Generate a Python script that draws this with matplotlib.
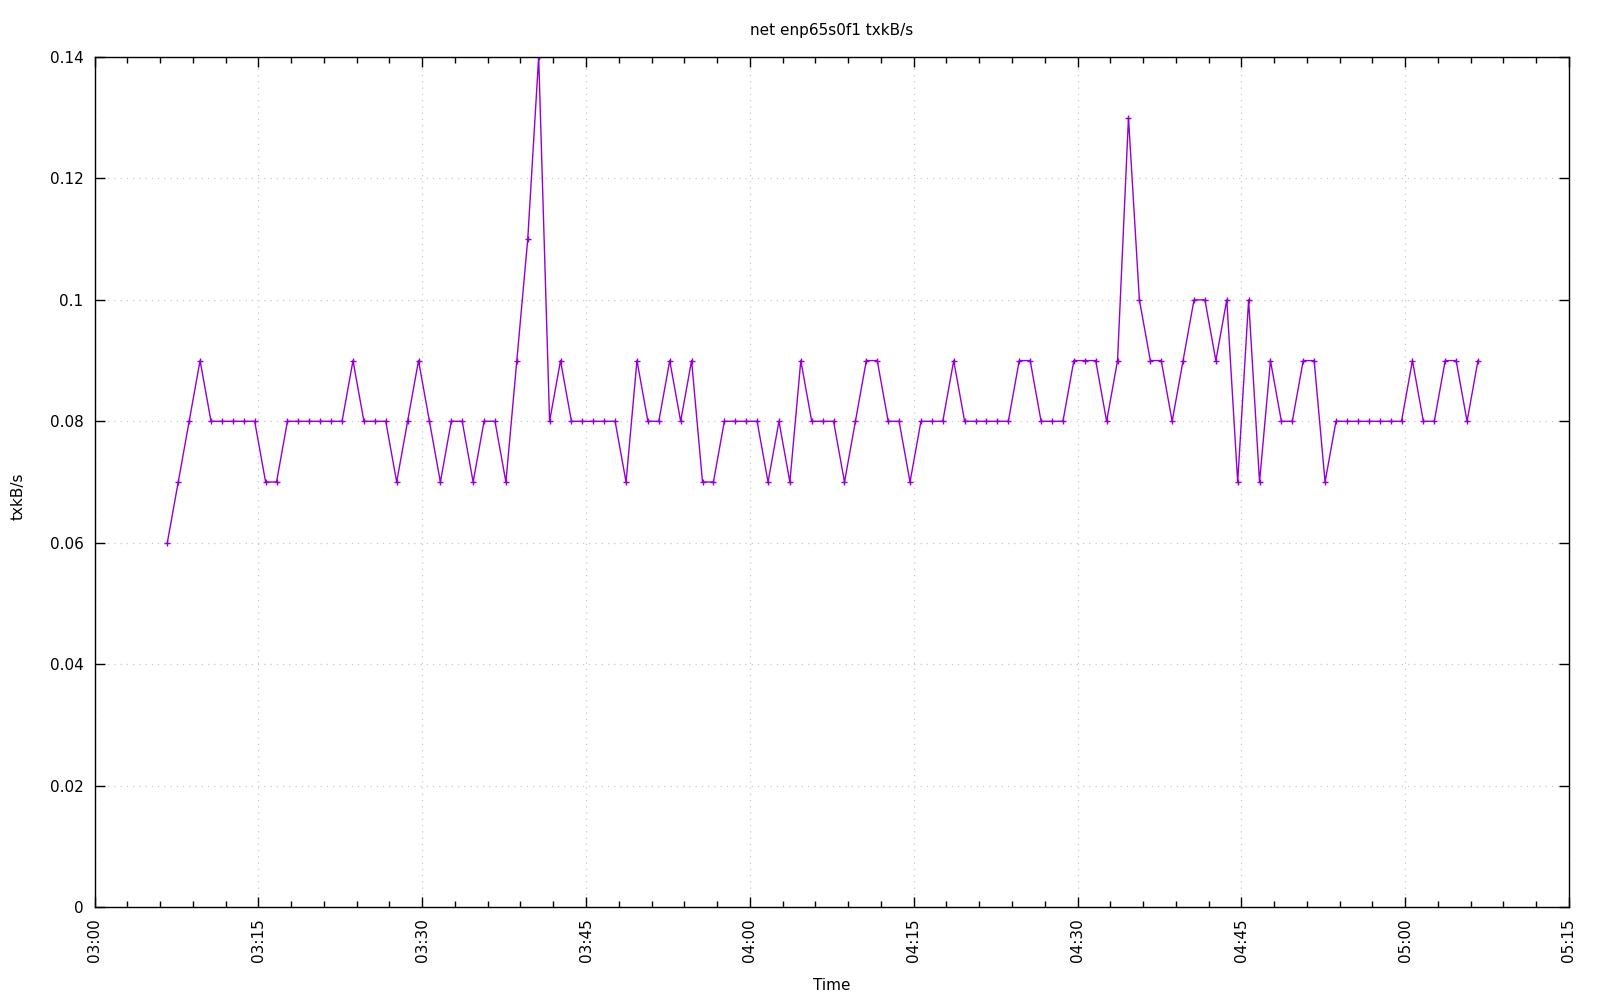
import matplotlib
matplotlib.use("Agg")
import matplotlib.pyplot as plt
import matplotlib.dates as mdates
import numpy as np
import pandas as pd

# Data: one sample per minute starting 03:06:40
start_time = "2024-01-01 03:06:40"
txkbs = [
    0.06, 0.07, 0.08, 0.09, 0.08, 0.08, 0.08, 0.08, 0.08, 0.07,
    0.07, 0.08, 0.08, 0.08, 0.08, 0.08, 0.08, 0.09, 0.08, 0.08,
    0.08, 0.07, 0.08, 0.09, 0.08, 0.07, 0.08, 0.08, 0.07, 0.08,
    0.08, 0.07, 0.09, 0.11, 0.14, 0.08, 0.09, 0.08, 0.08, 0.08,
    0.08, 0.08, 0.07, 0.09, 0.08, 0.08, 0.09, 0.08, 0.09, 0.07,
    0.07, 0.08, 0.08, 0.08, 0.08, 0.07, 0.08, 0.07, 0.09, 0.08,
    0.08, 0.08, 0.07, 0.08, 0.09, 0.09, 0.08, 0.08, 0.07, 0.08,
    0.08, 0.08, 0.09, 0.08, 0.08, 0.08, 0.08, 0.08, 0.09, 0.09,
    0.08, 0.08, 0.08, 0.09, 0.09, 0.09, 0.08, 0.09, 0.13, 0.10,
    0.09, 0.09, 0.08, 0.09, 0.10, 0.10, 0.09, 0.10, 0.07, 0.10,
    0.07, 0.09, 0.08, 0.08, 0.09, 0.09, 0.07, 0.08, 0.08, 0.08,
    0.08, 0.08, 0.08, 0.08, 0.09, 0.08, 0.08, 0.09, 0.09, 0.08,
    0.09,
]
times = pd.date_range(start_time, periods=len(txkbs), freq="1min")

title = "net enp65s0f1 txkB/s"
xlabel = "Time"
ylabel = "txkB/s"
x_min, x_max = "2024-01-01 03:00", "2024-01-01 05:15"
y_min, y_max = 0.0, 0.14
y_ticks = [0, 0.02, 0.04, 0.06, 0.08, 0.1, 0.12, 0.14]
y_ticklabels = ["0", "0.02", "0.04", "0.06", "0.08", "0.1", "0.12", "0.14"]

plt.rcParams['font.family'] = ['DejaVu Sans']
fig = plt.figure(figsize=(16, 10), dpi=100)
left_px, right_px = 94.5, 1569
ax = fig.add_axes([left_px / 1600, 0.093, (right_px - left_px) / 1600, 0.85])
cx = (left_px + right_px) / 2 / 1600

line_color = "#9400D3"
ax.plot(times, txkbs, color=line_color, lw=1.0, marker="+", markersize=4.5,
        markeredgewidth=1.0)

ax.set_xlim(pd.Timestamp(x_min), pd.Timestamp(x_max))
ax.set_ylim(y_min, y_max)
ax.set_yticks(y_ticks)
ax.set_yticklabels(y_ticklabels)

ax.xaxis.set_major_locator(mdates.MinuteLocator(byminute=[0, 15, 30, 45]))
ax.xaxis.set_minor_locator(mdates.MinuteLocator(byminute=range(0, 60, 3)))
ax.xaxis.set_major_formatter(mdates.DateFormatter("%H:%M"))

ax.tick_params(axis="both", which="both", direction="in", top=True, right=True,
               labelsize=11, colors="black")
ax.tick_params(axis="both", which="major", length=7, width=1)
ax.tick_params(axis="x", which="minor", length=4, width=1)
ax.tick_params(axis="x", which="major", pad=8)
ax.tick_params(axis="y", which="major", pad=8)
for lab in ax.get_xticklabels():
    lab.set_rotation(90)
    lab.set_ha("center")
    lab.set_va("top")

for s in ax.spines.values():
    s.set_linewidth(1.0)
    s.set_color("black")

ax.grid(True, which="major", color="#c8c8c8", linestyle=(0, (1, 4)), linewidth=0.9)
ax.set_axisbelow(True)

fig.text(cx, 1 - 30.5 / 1000, title, ha="center", va="center", fontsize=11)
fig.text(cx, 1 - 986 / 1000, xlabel, ha="center", va="center", fontsize=11)
fig.text(18.5 / 1600, 1 - 496 / 1000, ylabel, ha="center", va="center",
         rotation=90, fontsize=11)

fig.savefig("out.png", dpi=100)
